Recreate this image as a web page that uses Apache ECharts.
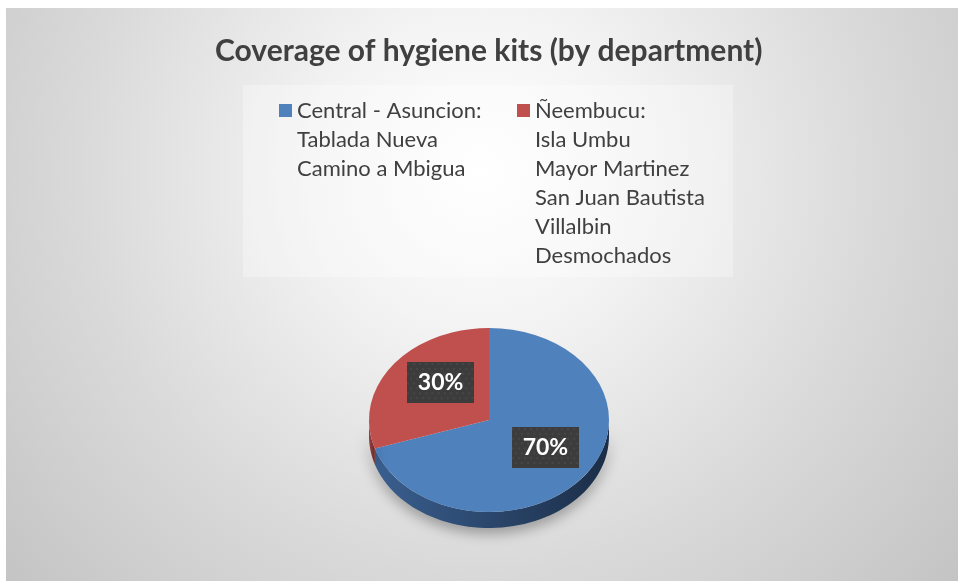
<!DOCTYPE html>
<html>
<head>
<meta charset="utf-8">
<script src="https://cdn.jsdelivr.net/npm/echarts@6/dist/echarts.min.js"></script>
<style>
  html, body { margin: 0; padding: 0; background: #fff; }
  #chart { width: 958px; height: 581px; }
</style>
</head>
<body>
<div id="chart"></div>
<script>
  // department names (legend) and share of kits
  const departments = [
    'Central - Asuncion:\nTablada Nueva\nCamino a Mbigua',
    'Ñeembucu:\nIsla Umbu\nMayor Martinez\nSan Juan Bautista\nVillalbin\nDesmochados'
  ];
  const coverage = [70, 30];
  const chartTitle = 'Coverage of hygiene kits (by department)';

  const topColors = ['#4f81bd', '#c0504d'];
  const sideColors = [['#3a5f8f', '#1b2d47'], ['#93403d', '#6e2b29']];
  const FONT = 'Lato, "Open Sans", sans-serif';
  const TEXT = '#404040';
  const LINE_H = 29;
  const MAX_LINES = Math.max(...departments.map(d => d.split('\n').length));
  const ITEM_H = MAX_LINES * LINE_H;

  // pie geometry (tilted disc)
  const pie = { cx: 489, cy: 420, rx: 120, ry: 92, depth: 16 };

  // dotted dark fill for the data labels
  function dotPattern() {
    const c = document.createElement('canvas');
    c.width = 66; c.height = 42;
    const ctx = c.getContext('2d');
    ctx.fillStyle = '#3c3c3c';
    ctx.fillRect(0, 0, c.width, c.height);
    ctx.fillStyle = '#4b4b4b';
    for (let y = 2, row = 0; y < c.height; y += 5, row++) {
      for (let x = (row % 2) * 3 + 1; x < c.width; x += 6) {
        ctx.beginPath();
        ctx.arc(x, y, 1, 0, Math.PI * 2);
        ctx.fill();
      }
    }
    return c;
  }
  const labelBg = dotPattern();

  const total = coverage.reduce((a, b) => a + b, 0);

  function makeRender(i) {
    return function (params, api) {
      const before = coverage.slice(0, i).reduce((a, b) => a + b, 0);
      const start = -Math.PI / 2 + 2 * Math.PI * before / total;
      const end = start + 2 * Math.PI * api.value(0) / total;
      const children = [];

      // visible side wall (lower half of the disc)
      const a1 = Math.max(start, 0), a2 = Math.min(end, Math.PI);
      if (a2 > a1) {
        const pts = [];
        const n = 60;
        for (let k = 0; k <= n; k++) {
          const t = a1 + (a2 - a1) * k / n;
          pts.push([pie.cx + pie.rx * Math.cos(t), pie.cy + pie.ry * Math.sin(t)]);
        }
        for (let k = n; k >= 0; k--) {
          const t = a1 + (a2 - a1) * k / n;
          pts.push([pie.cx + pie.rx * Math.cos(t), pie.cy + pie.ry * Math.sin(t) + pie.depth]);
        }
        children.push({
          type: 'polygon',
          shape: { points: pts },
          style: {
            fill: new echarts.graphic.LinearGradient(0, 0, 1, 0, [
              { offset: 0, color: sideColors[i][0] },
              { offset: 1, color: sideColors[i][1] }
            ]),
            shadowBlur: 14,
            shadowColor: 'rgba(0,0,0,0.35)',
            shadowOffsetY: 5
          }
        });
      }

      // top face
      children.push({
        type: 'sector',
        x: pie.cx, y: pie.cy,
        scaleY: pie.ry / pie.rx,
        shape: { cx: 0, cy: 0, r0: 0, r: pie.rx, startAngle: start, endAngle: end, clockwise: true },
        style: { fill: topColors[i] }
      });

      // data label
      const mid = (start + end) / 2;
      children.push({
        type: 'text',
        x: pie.cx + 4 + 0.54 * pie.rx * Math.cos(mid),
        y: pie.cy - 5 + 0.6 * pie.ry * Math.sin(mid),
        style: {
          text: Math.round(api.value(0) / total * 100) + '%',
          align: 'center',
          verticalAlign: 'middle',
          fill: '#ffffff',
          font: 'bold 23px ' + FONT,
          lineHeight: 23,
          padding: [9, 11, 9, 11],
          backgroundColor: { image: labelBg },
          shadowBlur: 6,
          shadowColor: 'rgba(0,0,0,0.45)',
          shadowOffsetX: 3,
          shadowOffsetY: 3
        }
      });

      return { type: 'group', children: children };
    };
  }

  const chart = echarts.init(document.getElementById('chart'));

  const series = departments.map((name, i) => ({
    name: name,
    type: 'custom',
    coordinateSystem: 'none',
    itemStyle: { color: topColors[i] },
    renderItem: makeRender(i),
    data: [[coverage[i]]]
  }));

  // square marker aligned with the first text line of a tall legend item
  const sq = 13, sqTop = (LINE_H - sq) / 2;
  const legendIcon = 'path://M0,' + sqTop + 'h' + sq + 'v' + sq + 'h-' + sq + 'z' +
    'M0,0h0.05v0.05h-0.05z' +
    'M0,' + (ITEM_H - 0.05) + 'h0.05v0.05h-0.05z';

  chart.setOption({
    animation: false,
    graphic: [
      {
        type: 'rect', z: -10,
        shape: { x: 6, y: 8, width: 952, height: 573 },
        style: {
          fill: new echarts.graphic.RadialGradient(480, 170, 650, [
            { offset: 0, color: '#ffffff' },
            { offset: 0.25, color: '#f3f3f3' },
            { offset: 0.62, color: '#d9d9d9' },
            { offset: 1, color: '#c2c2c2' }
          ], true)
        }
      },
      {
        type: 'rect', z: -9,
        shape: { x: 243, y: 85, width: 490, height: 192 },
        style: { fill: 'rgba(255,255,255,0.3)' }
      }
    ],
    title: {
      text: chartTitle,
      left: 210,
      top: 31,
      textStyle: { fontFamily: FONT, fontSize: 30, fontWeight: 'bold', color: TEXT }
    },
    legend: {
      left: 279,
      top: 96,
      padding: 0,
      orient: 'horizontal',
      icon: legendIcon,
      symbolKeepAspect: false,
      itemWidth: sq,
      itemHeight: ITEM_H,
      itemGap: 20,
      formatter: name => name + '\n'.repeat(MAX_LINES - name.split('\n').length),
      textStyle: {
        fontFamily: FONT, fontSize: 22, color: TEXT, lineHeight: LINE_H,
        width: 200, backgroundColor: 'rgba(0,0,0,0)'
      },
      data: departments
    },
    series: series
  });
</script>
</body>
</html>
